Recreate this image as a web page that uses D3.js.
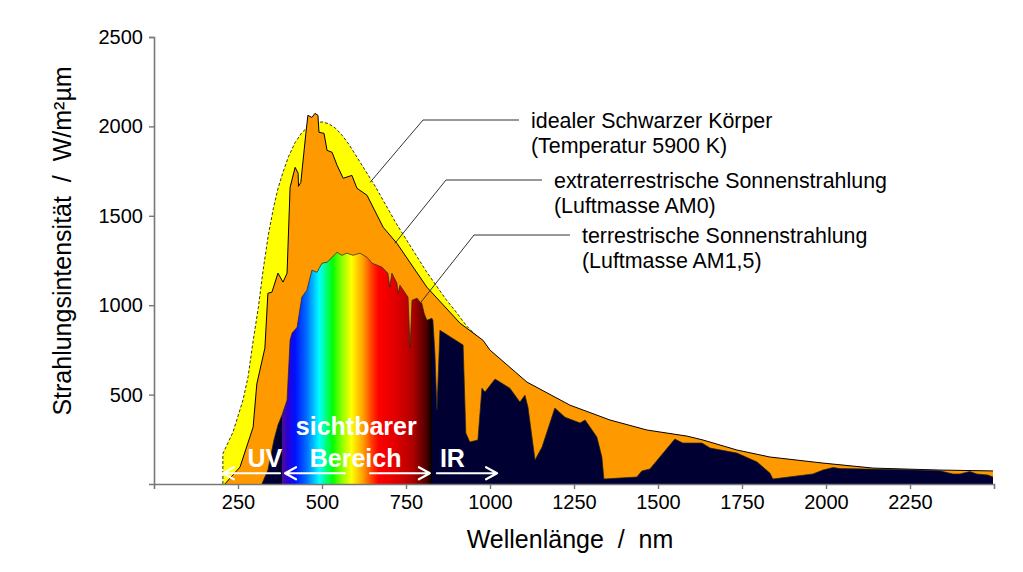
<!DOCTYPE html>
<html>
<head>
<meta charset="utf-8">
<script src="https://cdn.jsdelivr.net/npm/d3@7"></script>
<style>
body { margin: 0; background: #fff; }
svg { display: block; font-family: 'Liberation Sans', Arial, sans-serif; }
</style>
</head>
<body>
<svg width="1023" height="572"></svg>
<script>
'use strict';

// [wavelength nm, irradiance W/m²µm]
const blackBody = [
	[205, 0], [205, 170], [220, 230], [235, 290], [250, 380], [265, 470], [280, 600],
	[295, 800], [310, 980], [325, 1200], [340, 1390], [355, 1540], [370, 1660],
	[385, 1750], [400, 1830], [420, 1910], [440, 1965], [460, 2000], [480, 2020],
	[500, 2025], [520, 2015], [540, 1990], [560, 1950], [580, 1900], [600, 1840],
	[630, 1750], [660, 1660], [690, 1560], [720, 1460], [750, 1370], [780, 1280],
	[810, 1190], [840, 1110], [870, 1030], [900, 960], [930, 885], [960, 828], [990, 765]
];

const am0 = [
	[211, 0], [256, 95], [295, 318], [306, 560], [318, 660], [330, 760], [339, 1067],
	[351, 1073], [369, 1179], [384, 1129], [396, 1179], [405, 1659], [420, 1771],
	[429, 1738], [430, 1665], [437, 1687], [452, 1961], [458, 2062], [470, 2050],
	[479, 2073], [488, 2062], [491, 1967], [506, 1961], [515, 1866], [530, 1855],
	[545, 1782], [563, 1710], [589, 1726], [604, 1654], [634, 1615], [682, 1436],
	[723, 1346], [812, 1101], [911, 899], [979, 804], [1000, 749], [1110, 570],
	[1238, 441], [1357, 358], [1467, 302], [1586, 268], [1634, 246], [1735, 190],
	[1833, 151], [1991, 117], [2140, 89], [2339, 78], [2497, 73]
];

const am15 = [
	[321, 0], [339, 78], [357, 246], [369, 330], [381, 386], [396, 469], [405, 805],
	[411, 844], [426, 877], [440, 1045], [455, 1084], [470, 1196], [485, 1184],
	[500, 1235], [515, 1240], [530, 1268], [545, 1296], [559, 1279], [574, 1291],
	[592, 1279], [613, 1291], [634, 1268], [649, 1235], [664, 1224], [679, 1212],
	[696, 1179], [702, 1101], [708, 1179], [723, 1123], [726, 1067], [732, 1112],
	[756, 1045], [762, 760], [768, 1028], [783, 1039], [792, 1017], [797, 1011],
	[804, 955], [812, 916], [827, 927], [830, 916], [836, 732], [842, 413], [851, 860],
	[920, 777], [928, 285], [940, 235], [964, 246], [976, 536], [985, 514], [1015, 587],
	[1059, 536], [1089, 458], [1104, 497], [1113, 430], [1134, 134], [1155, 207],
	[1193, 425], [1223, 374], [1268, 341], [1283, 358], [1318, 263], [1333, 151],
	[1339, 28], [1437, 39], [1452, 73], [1476, 84], [1550, 251], [1574, 229],
	[1631, 229], [1655, 201], [1735, 173], [1795, 123], [1833, 61], [1842, 28],
	[1961, 56], [1991, 78], [2021, 92], [2042, 86], [2241, 80], [2339, 74],
	[2378, 56], [2399, 56], [2428, 70], [2449, 56], [2482, 50], [2497, 39]
];

const xTicks = [250, 500, 750, 1000, 1250, 1500, 1750, 2000, 2250];
const yTicks = [500, 1000, 1500, 2000, 2500];

// colour of the visible band by wavelength
const spectrum = [
	[380, '#50108a'], [398, '#2a00d8'], [420, '#0010ff'], [455, '#0070ff'],
	[492, '#00ffff'], [532, '#00ff00'], [560, '#90ff00'], [588, '#ffff00'],
	[622, '#ffa000'], [650, '#ff3800'], [668, '#ff0000'], [720, '#e00000'],
	[770, '#b00000'], [810, '#500000'], [828, '#000000']
];

const bands = [
	{from: 205, to: 375, head: 'start'},
	{from: 390, to: 568, head: 'start'},
	{from: 643, to: 821, head: 'end'},
	{from: 842, to: 1021, head: 'end'}
];
const bandLabels = [
	{text: 'UV', at: 330, row: 0, anchor: 'middle'},
	{text: 'sichtbarer', at: 602, row: 1, anchor: 'middle'},
	{text: 'Bereich', at: 600, row: 0, anchor: 'middle'},
	{text: 'IR', at: 851, row: 0, anchor: 'start'}
];

const notes = [
	{at: [643, 1687], lines: ['idealer Schwarzer Körper', '(Temperatur 5900 K)']},
	{at: [717, 1346], lines: ['extraterrestrische Sonnenstrahlung', '(Luftmasse AM0)']},
	{at: [792, 1011], lines: ['terrestrische Sonnenstrahlung', '(Luftmasse AM1,5)']}
];
const noteX = [531, 554, 582];
const noteY = [128, 188, 243];

const navy = '#000033';

const $svg = d3.select('svg');

const x = d3.scaleLinear().domain([0, 2500]).range([154, 994]);
const y = d3.scaleLinear().domain([0, 2500]).range([484, 37]);

const area = d3.area()
	  .x(d => x(d[0]))
	  .y0(y(0))
	  .y1(d => y(d[1]))
;
const line = d3.line()
	  .x(d => x(d[0]))
	  .y(d => y(d[1]))
;

// gradient along the wavelength axis: navy outside the visible band
const $grad = $svg.append('defs').append('linearGradient')
	  .attr('id', 'spec')
	  .attr('gradientUnits', 'userSpaceOnUse')
	  .attr('x1', x(0)).attr('x2', x(2500))
	  .attr('y1', 0).attr('y2', 0)
;
const stops = [[0, navy], [spectrum[0][0], navy]]
	  .concat(spectrum)
	  .concat([[spectrum[spectrum.length - 1][0], navy], [2500, navy]]);
$grad.selectAll('stop')
	.data(stops)
	.join('stop')
	.attr('offset', d => d[0] / 2500)
	.attr('stop-color', d => d[1])
;

// ideal black body
$svg.append('path')
	.attr('d', area(blackBody))
	.attr('fill', '#ffff00')
;
$svg.append('path')
	.attr('d', line(blackBody))
	.attr('fill', 'none')
	.attr('stroke', '#000')
	.attr('stroke-width', 0.8)
	.attr('stroke-dasharray', '3,2')
;

// AM0
$svg.append('path')
	.attr('d', area(am0))
	.attr('fill', '#ff9900')
;
$svg.append('path')
	.attr('d', line(am0))
	.attr('fill', 'none')
	.attr('stroke', '#000')
	.attr('stroke-width', 1)
;

// AM1.5
$svg.append('path')
	.attr('d', area(am15))
	.attr('fill', 'url(#spec)')
;
$svg.append('path')
	.attr('d', line(am15))
	.attr('fill', 'none')
	.attr('stroke', '#222')
	.attr('stroke-width', 0.7)
;

// band arrows
const arrowY = y(60);
const $arrows = $svg.append('g')
	  .attr('stroke', '#fff')
	  .attr('stroke-width', 2.2)
	  .attr('fill', 'none')
	  .attr('stroke-linecap', 'round')
	  .attr('stroke-linejoin', 'round')
;
$arrows.selectAll('path')
	.data(bands)
	.join('path')
	.attr('d', d => {
		const a = x(d.from), b = x(d.to);
		const tip = d.head === 'start' ? a : b;
		const s = d.head === 'start' ? 1 : -1;
		return 'M' + a + ',' + arrowY + 'H' + b
			+ 'M' + (tip + s * 11) + ',' + (arrowY - 6) + 'L' + tip + ',' + arrowY
			+ 'L' + (tip + s * 11) + ',' + (arrowY + 6);
	})
;
$svg.append('g')
	.selectAll('text')
	.data(bandLabels)
	.join('text')
	.attr('x', d => x(d.at))
	.attr('y', d => arrowY - 6 - d.row * 32)
	.attr('text-anchor', d => d.anchor)
	.attr('fill', '#fff')
	.attr('font-weight', 'bold')
	.attr('font-size', 25)
	.text(d => d.text)
;

// axes
const fmt = d3.format('d');
const $xAxis = $svg.append('g')
	  .attr('transform', 'translate(0,' + y(0) + ')')
	  .call(d3.axisBottom(x).tickValues(xTicks).tickFormat(fmt)
			.tickSizeOuter(0).tickSize(5).tickPadding(6))
;
const $yAxis = $svg.append('g')
	  .attr('transform', 'translate(' + x(0) + ',0)')
	  .call(d3.axisLeft(y).tickValues(yTicks).tickFormat(fmt)
			.tickSizeOuter(0).tickSize(5).tickPadding(6))
;
[$xAxis, $yAxis].forEach($a => {
	$a.select('.domain').attr('stroke', '#777').attr('stroke-width', 1.6);
	$a.selectAll('.tick line').attr('stroke', '#777').attr('stroke-width', 1.4);
	$a.selectAll('.tick text')
		.attr('fill', '#000')
		.attr('font-size', 20)
		.attr('font-family', "'Liberation Sans', Arial, sans-serif");
});

$svg.append('text')
	.attr('x', 570)
	.attr('y', 548)
	.attr('text-anchor', 'middle')
	.attr('font-size', 25)
	.style('white-space', 'pre')
	.text('Wellenlänge  /  nm')
;
$svg.append('text')
	.attr('transform', 'translate(71,241) rotate(-90)')
	.attr('text-anchor', 'middle')
	.attr('font-size', 25)
	.style('white-space', 'pre')
	.text('Strahlungsintensität  /  W/m²µm')
;

// annotations
const $notes = $svg.append('g');
notes.forEach((n, k) => {
	const tx = noteX[k], ty = noteY[k];
	$notes.append('path')
		.attr('d', 'M' + x(n.at[0]) + ',' + y(n.at[1])
			  + 'L' + (tx - 108) + ',' + (ty - 8) + 'H' + (tx - 12))
		.attr('fill', 'none')
		.attr('stroke', '#333')
		.attr('stroke-width', 1)
	;
	$notes.append('text')
		.attr('x', tx)
		.attr('y', ty)
		.attr('font-size', 21.4)
		.selectAll('tspan')
		.data(n.lines)
		.join('tspan')
		.attr('x', tx)
		.attr('dy', (d, i) => i ? 25 : 0)
		.text(d => d)
	;
});
</script>
</body>
</html>
